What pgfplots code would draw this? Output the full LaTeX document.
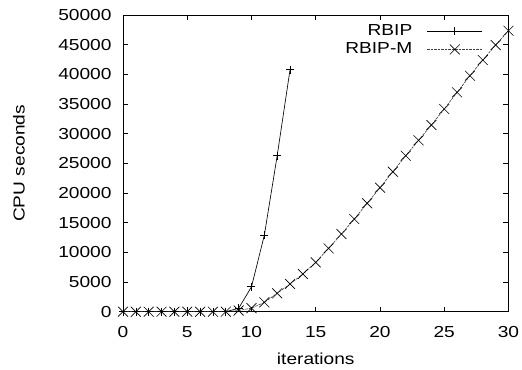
\documentclass[border=0pt]{standalone}
\usepackage{fontspec}
\setmainfont{Liberation Sans}[FakeStretch=1.2]
\usepackage{pgfplots}
\pgfplotsset{compat=1.18}
\begin{document}
\fontsize{16}{19}\selectfont
\begin{tikzpicture}[font=\fontsize{16}{19}\selectfont]
\begin{axis}[
  scale only axis,
  width=385.5bp, height=296.7bp,
  at={(0,0)}, anchor=south west,
  xmin=0, xmax=30, ymin=0, ymax=50000,
  xtick={0,5,...,30},
  ytick={0,5000,...,50000},
  scaled y ticks=false,
  /pgf/number format/assume math mode=true,
  /pgf/number format/1000 sep={},
  tick align=inside,
  xtick pos=both, ytick pos=both,
  major tick length=5bp,
  axis line style={line width=0.9pt},
  tick style={line width=0.7pt, black},
  every tick label/.append style={font=\fontsize{16}{19}\selectfont},
  xticklabel style={yshift=-9bp},
  yticklabel style={xshift=-6bp},
  xlabel={iterations},
  ylabel={CPU seconds},
  label style={font=\fontsize{16}{19}\selectfont},
  xlabel style={at={(axis description cs:0.5,-0.1796)}, anchor=base},
  ylabel style={at={(axis description cs:-0.2698,0.5)}, anchor=center},
  legend plot pos=right,
  legend cell align=right,
  legend style={at={(1,1)}, anchor=north east, xshift=-23bp, yshift=-5.5bp, draw=none, fill=none,
    font=\fontsize{16}{19}\selectfont, row sep=0.5bp, column sep=14bp,
    nodes={inner sep=1bp, text height=11.5bp, text depth=4bp}},
  legend image code/.code={\pgfinterruptboundingbox\draw[mark repeat=2,mark phase=2,#1] plot coordinates {(0bp,0bp) (27.5bp,0bp) (55bp,0bp)};\endpgfinterruptboundingbox\path[draw=none,fill=none,mark=none] (0bp,-2bp) rectangle (55bp,2bp);},
]
\addplot[black, line width=0.65pt, mark=+, mark size=4bp, mark options={solid, line width=0.65pt}]
  coordinates {(0,0)(1,0)(2,0)(3,0)(4,0)(5,0)(6,0)(7,0)(8,0)(9,580)(10,4200)(11,12900)(12,26300)(13,40800)};
\addlegendentry{RBIP}
\addplot[black!75, line width=0.65pt, dash pattern=on 2.5bp off 1bp, mark=x, mark size=7bp, mark options={solid, black, line width=0.65pt}]
  coordinates {(0,0)(1,0)(2,0)(3,0)(4,0)(5,0)(6,0)(7,0)(8,0)(9,200)(10,600)(11,1580)(12,3100)(13,4670)(14,6350)(15,8320)(16,10680)(17,13090)(18,15620)(19,18270)(20,20900)(21,23590)(22,26290)(23,28880)(24,31460)(25,34160)(26,36970)(27,39770)(28,42410)(29,44940)(30,47350)};
\addlegendentry{RBIP-M}
\end{axis}
\pgfresetboundingbox
\useasboundingbox (-123bp,-58.3bp) rectangle (399bp,311.7bp);
\end{tikzpicture}
\end{document}
